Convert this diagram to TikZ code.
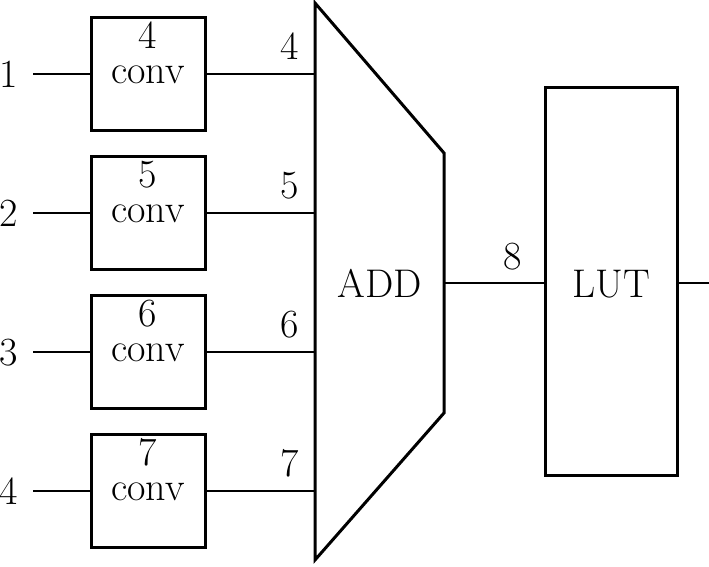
\documentclass[tikz,border=0pt]{standalone}
\begin{document}
\begin{tikzpicture}[x=0.5pt,y=-0.5pt,
  every node/.style={font=\fontsize{20}{17.5}\selectfont, inner sep=0pt},
  box/.style={draw, line width=1.5pt, minimum width=57pt, minimum height=56.5pt},
  wire/.style={line width=1pt},
  lbl/.style={anchor=base}]
\useasboundingbox (0,0) rectangle (709,567);
% conv boxes
\foreach \i/\y/\n in {1/74.5/4, 2/213.5/5, 3/352.5/6, 4/491.5/7}{
  \node[box] (c\i) at (148,\y) {};
  \node[align=center] (t\i) at (148,\y-21.9) {\n\\conv};
  \node[lbl] (in\i) at (9,\y+13.5) {\i};
  \coordinate (a\i) at (33,\y);
  \coordinate (e\i) at (315,\y);
  \node[lbl] (o\i) at (290,\y-15) {\n};
  \draw[wire] (a\i) -- (c\i.west);
  \draw[wire] (c\i.east) -- (e\i);
}
% ADD trapezoid
\draw[line width=1.5pt, line join=miter] (315,3) -- (444,153) -- (444,413) -- (315,560) -- cycle;
\node[lbl] (add) at (380,298) {ADD};
\coordinate (addout) at (444,283);
% LUT
\node[box, minimum width=66pt, minimum height=194pt] (lut) at (611,282) {};
\node[lbl] (luttxt) at (611,298) {LUT};
\node[lbl] (n8) at (513,270) {8};
\coordinate (out) at (709,283);
\draw[wire] (addout) -- (lut.west |- addout);
\draw[wire] (lut.east |- out) -- (out);
\end{tikzpicture}
\end{document}
